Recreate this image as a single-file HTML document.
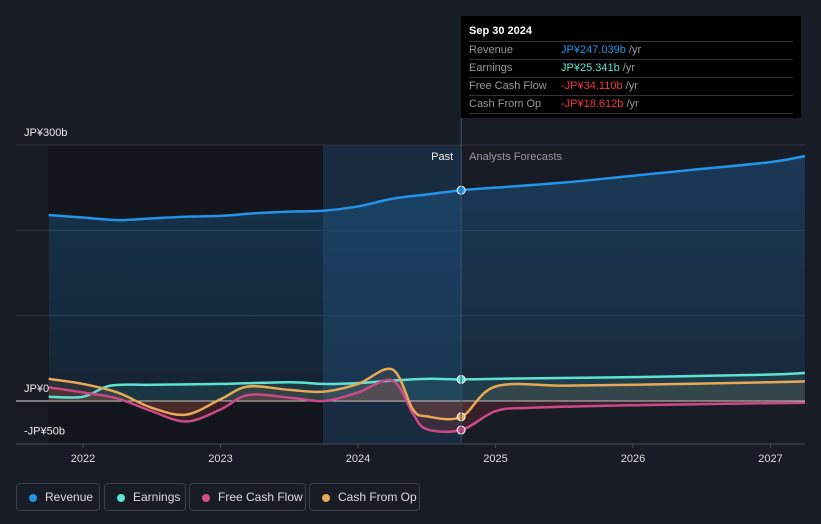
<!DOCTYPE html>
<html><head><meta charset="utf-8"><style>
body{margin:0;background:#181c27;font-family:"Liberation Sans",sans-serif;}
#wrap{position:relative;width:821px;height:524px;overflow:hidden;background:#181c27;}
svg text{font-family:"Liberation Sans",sans-serif;}
#tip{position:absolute;left:461px;top:16px;width:340px;height:102px;background:#000;color:#fff;font-size:11px;}
#tip .h{padding:9px 8px 4px;font-weight:bold;font-size:11px;}
#tip .r{margin:0 8px;border-top:1px solid #333;height:17px;line-height:17px;position:relative;color:#999;}
#tip .r span{position:absolute;left:92px;}
#tip .last{border-bottom:1px solid #333;}
.legend{position:absolute;top:483px;height:28px;border:1px solid #3a3f4b;border-radius:4px;color:#ddd;font-size:12px;line-height:26px;padding:0 0 0 28px;box-sizing:border-box;white-space:nowrap;}
.legend i{position:absolute;left:12px;top:10px;width:8px;height:8px;border-radius:50%;}
</style></head><body>
<div id="wrap">
<svg id="chart" width="821" height="524">
<defs>
<linearGradient id="revg" x1="0" y1="0" x2="0" y2="1"><stop offset="0" stop-color="#1e6fb0" stop-opacity="0.35"/><stop offset="1" stop-color="#1e6fb0" stop-opacity="0.15"/></linearGradient>
</defs>
<rect x="48" y="145" width="275" height="299" fill="#13161d"/>
<rect x="323" y="145" width="138" height="299" fill="#1a3550" opacity="0.6"/>
<g id="grid"></g>
<g id="areas"></g>
<g id="lines"></g>
<g id="axes"></g>
</svg>
<div id="tip">
<div class="h">Sep 30 2024</div>
<div class="r">Revenue<span><b style="font-weight:normal;color:#2394e8">JP¥247.039b</b> /yr</span></div>
<div class="r">Earnings<span><b style="font-weight:normal;color:#5de3d0">JP¥25.341b</b> /yr</span></div>
<div class="r">Free Cash Flow<span><b style="font-weight:normal;color:#f0383f">-JP¥34.110b</b> /yr</span></div>
<div class="r last">Cash From Op<span><b style="font-weight:normal;color:#f0383f">-JP¥18.612b</b> /yr</span></div>
</div>
<div class="legend" style="left:16px;width:84px"><i style="background:#2394e8"></i>Revenue</div>
<div class="legend" style="left:104px;width:82px"><i style="background:#5de3d0"></i>Earnings</div>
<div class="legend" style="left:189px;width:117px"><i style="background:#d4508a"></i>Free Cash Flow</div>
<div class="legend" style="left:309px;width:111px"><i style="background:#e8a956"></i>Cash From Op</div>
</div>
<script>
const revT=[2021.75,2022,2022.25,2022.5,2022.75,2023,2023.25,2023.5,2023.75,2024,2024.25,2024.5,2024.75,2025,2025.5,2026,2026.5,2027,2027.25];
const revV=[218,215,212,214,216,217,220,222,223,228,237,242,247,250,256,264,272,280,287];
const earnT=[2021.75,2022,2022.2,2022.5,2023,2023.5,2023.75,2024,2024.25,2024.5,2024.75,2025,2026,2027,2027.25];
const earnV=[5,5,18,19,20,22,20,21,24,26,25.3,26,28,31,33];
const fcfT=[2021.75,2022,2022.25,2022.5,2022.75,2023,2023.2,2023.5,2023.75,2024,2024.25,2024.4,2024.5,2024.75,2025,2025.25,2026,2027.25];
const fcfV=[16,10,3,-12,-24,-10,7,4,0,10,24,-15,-33,-34,-12,-8,-5,-2];
const cfoT=[2021.75,2022,2022.25,2022.5,2022.75,2023,2023.2,2023.5,2023.75,2024,2024.25,2024.4,2024.5,2024.75,2025,2025.5,2026,2027,2027.25];
const cfoV=[26,20,10,-8,-16,2,17,13,11,20,37,-10,-18,-18.6,17,18,19,22,23];
const yTicks=[0,100,200,300];
const yLabels=[[300,"JP¥300b"],[0,"JP¥0"],[-50,"-JP¥50b"]];
const xYears=[2022,2023,2024,2025,2026,2027];
const NOW=2024.75;
const X=t=>83+(t-2022)*137.5;
const Y=v=>401-v*0.8533;
const ns="http://www.w3.org/2000/svg";
function mk(tag,attrs,parent){const e=document.createElementNS(ns,tag);for(const k in attrs)e.setAttribute(k,attrs[k]);parent.appendChild(e);return e;}
function path(T,V){const p=T.map((t,i)=>[X(t),Y(V[i])]);let d="M"+p[0][0]+","+p[0][1];
for(let i=0;i<p.length-1;i++){const p0=p[i-1]||p[i],p1=p[i],p2=p[i+1],p3=p[i+2]||p2;
const c1=[p1[0]+(p2[0]-p0[0])/6,p1[1]+(p2[1]-p0[1])/6],c2=[p2[0]-(p3[0]-p1[0])/6,p2[1]-(p3[1]-p1[1])/6];
d+=` C${c1[0]},${c1[1]} ${c2[0]},${c2[1]} ${p2[0]},${p2[1]}`;}return d;}
const grid=document.getElementById('grid'),areas=document.getElementById('areas'),lines=document.getElementById('lines'),axes=document.getElementById('axes');
yTicks.forEach(v=>{const l=mk('line',{x1:16,x2:805,y1:Y(v),y2:Y(v),stroke:v===0?'#ddd':'#2e3340','stroke-width':1},grid);

});
yLabels.forEach(([v,s])=>{const t=mk('text',{x:24,y:Y(v)-9,fill:'#eee','font-size':11},axes);t.textContent=s;

});
mk('line',{x1:16,x2:805,y1:444,y2:444,stroke:'#444a57'},axes);
xYears.forEach(y=>{mk('line',{x1:X(y),x2:X(y),y1:444,y2:448,stroke:'#444a57'},axes);
const t=mk('text',{x:X(y),y:462,fill:'#ddd','font-size':11,'text-anchor':'middle'},axes);t.textContent=y;

});
mk('line',{x1:X(NOW),x2:X(NOW),y1:118,y2:444,stroke:'#3a5470'},axes);
let t1=mk('text',{x:X(NOW)-8,y:160,fill:'#eee','font-size':11,'text-anchor':'end'},axes);t1.textContent="Past";


let t2=mk('text',{x:X(NOW)+8,y:160,fill:'#999','font-size':11},axes);t2.textContent="Analysts Forecasts";


function series(T,V,color,name,fill){const d=path(T,V);const z=Y(0);
const a=mk('path',{d:d+` L${X(T[T.length-1])},${z} L${X(T[0])},${z} Z`,fill:fill,opacity:1},areas);


const l=mk('path',{d:d,fill:'none',stroke:color,'stroke-width':2.5},lines);


const i=T.indexOf(NOW);if(i>=0){const c=mk('circle',{cx:X(NOW),cy:Y(V[i]),r:4,fill:color,stroke:'#fff','stroke-width':1},lines);

}}
series(revT,revV,'#2394e8','revenue','url(#revg)');
series(earnT,earnV,'#5de3d0','earnings','rgba(93,227,208,0.1)');
series(fcfT,fcfV,'#c94a86','free-cash-flow','rgba(180,50,60,0.22)');
series(cfoT,cfoV,'#e8a956','cash-from-op','rgba(232,169,86,0.1)');
</script>
</body></html>
